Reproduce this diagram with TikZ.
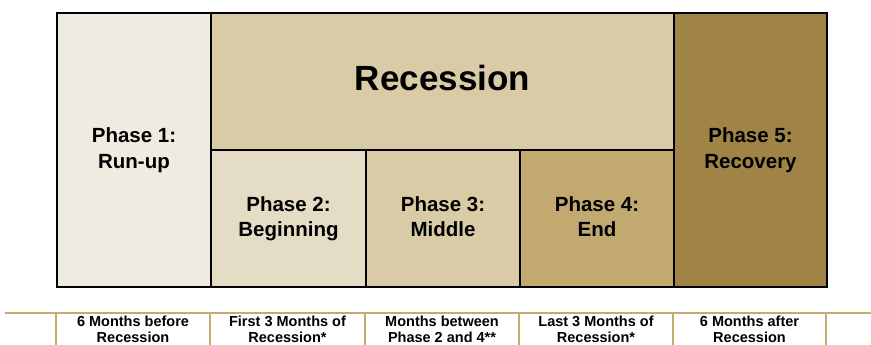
\documentclass[tikz,border=0pt]{standalone}
\usepackage{fontspec}
\setmainfont{Liberation Sans}
\definecolor{runupfill}{HTML}{EFEBE0}
\definecolor{recessfill}{HTML}{D8CBA6}
\definecolor{beginfill}{HTML}{E5DCC5}
\definecolor{middlefill}{HTML}{D8CBA6}
\definecolor{endfill}{HTML}{C2A96F}
\definecolor{recoverfill}{HTML}{9F8446}
\definecolor{goldline}{HTML}{C6AB6E}
\tikzset{
  phasebox/.style={draw=black,line width=2pt,anchor=north west,inner sep=0pt,
    align=center,font=\fontsize{20.5}{25.5}\selectfont\bfseries,
    execute at end node=\vphantom{g}},
  monthtext/.style={align=center,inner sep=0pt,
    font=\fontsize{14.5}{16}\selectfont\bfseries},
  rule/.style={draw=goldline,line width=2pt}
}
\begin{document}
\begin{tikzpicture}[x=1pt,y=-1pt]
\useasboundingbox (0,0) rectangle (871,345);
% upper block
\node[phasebox,fill=runupfill,minimum width=154pt,minimum height=274pt] (p1) at (56,12){Phase 1:\\Run-up};
\node[phasebox,fill=recessfill,minimum width=463pt,minimum height=137pt,
  font=\fontsize{35}{40}\selectfont\bfseries,execute at end node={}] (rec) at (210,12){Recession};
\node[phasebox,fill=beginfill,minimum width=155pt,minimum height=137pt] (p2) at (210,149){Phase 2:\\Beginning};
\node[phasebox,fill=middlefill,minimum width=154pt,minimum height=137pt] (p3) at (365,149){Phase 3:\\Middle};
\node[phasebox,fill=endfill,minimum width=154pt,minimum height=137pt] (p4) at (519,149){Phase 4:\\End};
\node[phasebox,fill=recoverfill,minimum width=153pt,minimum height=274pt] (p5) at (673,12){Phase 5:\\Recovery};
% timeline table
\coordinate (l0) at (5,313);
\coordinate (l1) at (871,313);
\draw[rule] (l0)--(l1);
\foreach \x in {56,210,365,519,673,826}{
	\draw[rule] (\x,313)--(\x,346);
	}
\node[monthtext] (t1) at (133,329.5){6 Months before\\Recession};
\node[monthtext] (t2) at (287.5,329.5){First 3 Months of\\Recession*};
\node[monthtext] (t3) at (442,329.5){Months between\\Phase 2 and 4**};
\node[monthtext] (t4) at (596,329.5){Last 3 Months of\\Recession*};
\node[monthtext] (t5) at (749.5,329.5){6 Months after\\Recession};
\end{tikzpicture}
\end{document}
